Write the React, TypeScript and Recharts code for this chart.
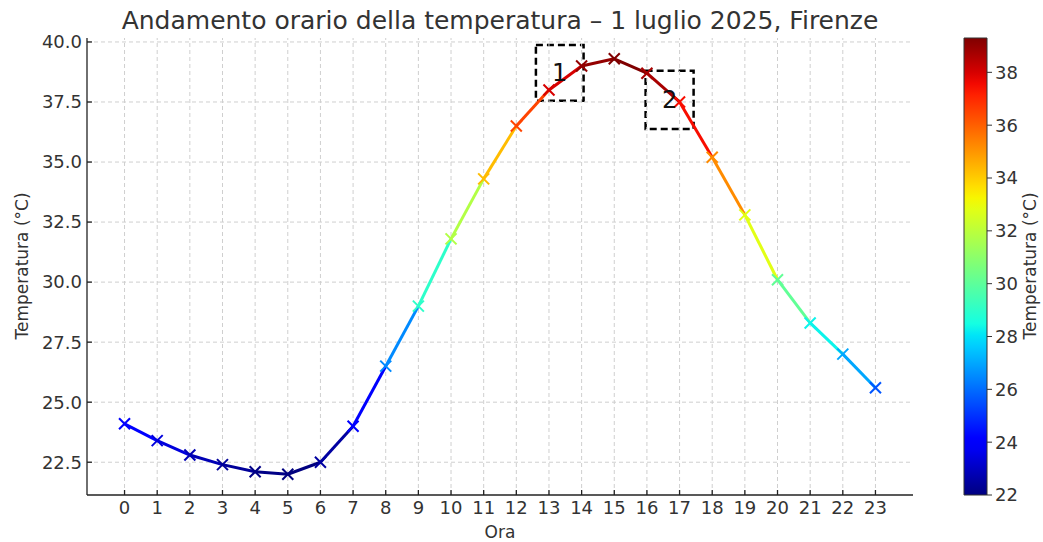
import React from 'react';
import { ComposedChart, Line, Scatter, XAxis, YAxis, ReferenceArea, ReferenceLine } from 'recharts';

const hours = [0, 1, 2, 3, 4, 5, 6, 7, 8, 9, 10, 11, 12, 13, 14, 15, 16, 17, 18, 19, 20, 21, 22, 23];
const temps = [24.1, 23.4, 22.8, 22.4, 22.1, 22.0, 22.5, 24.0, 26.5, 29.0, 31.8, 34.3, 36.5, 38.0, 39.0, 39.3, 38.7, 37.5, 35.2, 32.8, 30.1, 28.3, 27.0, 25.6];
const yTicks = [22.5, 25, 27.5, 30, 32.5, 35, 37.5, 40];
const barTicks = [22, 24, 26, 28, 30, 32, 34, 36, 38];

// dashed annotation boxes (data coords)
const boxLabels = ['1', '2'];
const boxX = [[12.6, 14.06], [15.96, 17.43]];
const boxY = [[37.55, 39.87], [36.38, 38.8]];

const jetR = [[0, 0], [0.35, 0], [0.66, 1], [0.89, 1], [1, 0.5]];
const jetG = [[0, 0], [0.125, 0], [0.375, 1], [0.64, 1], [0.91, 0], [1, 0]];
const jetB = [[0, 0.5], [0.11, 1], [0.34, 1], [0.65, 0], [1, 0]];

const interp = (pts: number[][], t: number) => {
  for (let i = 1; i < pts.length; i++) {
    if (t <= pts[i][0]) {
      const [x0, y0] = pts[i - 1];
      const [x1, y1] = pts[i];
      return y0 + ((t - x0) / (x1 - x0)) * (y1 - y0);
    }
  }
  return pts[pts.length - 1][1];
};

const jet = (t: number) => {
  const c = Math.max(0, Math.min(1, t));
  const h = (v: number) => Math.round(v * 255).toString(16).padStart(2, '0');
  return '#' + h(interp(jetR, c)) + h(interp(jetG, c)) + h(interp(jetB, c));
};

const tMin = Math.min(...temps);
const tMax = Math.max(...temps);
const norm = (v: number) => (v - tMin) / (tMax - tMin);

const points = hours.map((h, i) => ({ x: h, y: temps[i], color: jet(norm(temps[i])) }));
const segments = hours.slice(0, -1).map((h, i) => ({
  key: 'seg' + h,
  color: jet(norm(temps[i])),
  data: [points[i], points[i + 1]],
}));
const barData = [{ x: 0, y: tMin }, { x: 1, y: tMax }];

const XMark = (props: any) => {
  const { cx, cy, payload } = props;
  const r = 5.5;
  return (
    <g stroke={payload.color} strokeWidth={2}>
      <line x1={cx - r} y1={cy - r} x2={cx + r} y2={cy + r} />
      <line x1={cx - r} y1={cy + r} x2={cx + r} y2={cy - r} />
    </g>
  );
};

const font = '"DejaVu Sans", sans-serif';
const textColor = '#333';
const gridColor = '#cfcfcf';

export default function App() {
  return (
    <div style={{ position: 'fixed', top: 0, left: 0, width: 1043, height: 542, background: '#fff', fontFamily: font, overflow: 'hidden' }}>
      <div style={{ position: 'absolute', top: 6, left: 0, width: 1000, textAlign: 'center', fontSize: 25, color: textColor }}>
        Andamento orario della temperatura – 1 luglio 2025, Firenze
      </div>
      <div style={{ position: 'absolute', top: 522, left: 0, width: 1000, textAlign: 'center', fontSize: 17, color: textColor }}>
        Ora
      </div>
      <div style={{ position: 'absolute', top: 256, left: -78, width: 200, textAlign: 'center', fontSize: 17, color: textColor, transform: 'rotate(-90deg)' }}>
        Temperatura (°C)
      </div>
      <div style={{ position: 'absolute', top: 256, left: 930, width: 200, textAlign: 'center', fontSize: 17, color: textColor, transform: 'rotate(-90deg)' }}>
        Temperatura (°C)
      </div>

      <div style={{ position: 'absolute', top: 0, left: 0 }}>
        <ComposedChart width={930} height={542} margin={{ top: 38, right: 17, bottom: 7, left: 7 }}>
          <XAxis
            dataKey="x"
            type="number"
            domain={[-1.15, 24.15]}
            ticks={hours}
            interval={0}
            height={40}
            tickSize={-5}
            tickMargin={11}
            stroke="#222"
            strokeWidth={1.3}
            tick={{ fill: textColor, fontSize: 18, fontFamily: font }}
            allowDataOverflow
          />
          <YAxis
            dataKey="y"
            type="number"
            domain={[21.135, 40.165]}
            ticks={yTicks}
            interval={0}
            width={80}
            tickSize={-5}
            tickMargin={10}
            stroke="#222"
            strokeWidth={1.3}
            tickFormatter={(v: number) => v.toFixed(1)}
            tick={{ fill: textColor, fontSize: 18, fontFamily: font }}
            allowDataOverflow
          />
          {hours.map((h) => (
            <ReferenceLine key={'gx' + h} x={h} stroke={gridColor} strokeDasharray="4 3" />
          ))}
          {yTicks.map((t) => (
            <ReferenceLine key={'gy' + t} y={t} stroke={gridColor} strokeDasharray="4 3" />
          ))}
          {segments.map((s) => (
            <Line
              key={s.key}
              data={s.data}
              dataKey="y"
              type="linear"
              stroke={s.color}
              strokeWidth={3}
              dot={false}
              activeDot={false}
              isAnimationActive={false}
            />
          ))}
          <Scatter data={points} dataKey="y" shape={XMark} isAnimationActive={false} />
          {boxLabels.map((lab, i) => (
            <ReferenceArea
              key={'box' + lab}
              x1={boxX[i][0]}
              x2={boxX[i][1]}
              y1={boxY[i][0]}
              y2={boxY[i][1]}
              fill="none"
              stroke="#000"
              strokeWidth={2.5}
              strokeDasharray="7 4"
              ifOverflow="visible"
              label={{ value: lab, position: 'center', fontSize: 24, fill: '#111', fontFamily: font }}
            />
          ))}
        </ComposedChart>
      </div>

      <div style={{ position: 'absolute', top: 0, left: 950 }}>
        <ComposedChart width={93} height={542} data={barData} margin={{ top: 38, right: 0, bottom: 47, left: 14 }}>
          <defs>
            <linearGradient id="jetGrad" x1="0" y1="1" x2="0" y2="0">
              {Array.from({ length: 41 }, (_, k) => (
                <stop key={k} offset={k / 40} stopColor={jet(k / 40)} />
              ))}
            </linearGradient>
          </defs>
          <XAxis type="number" dataKey="x" domain={[0, 1]} hide />
          <YAxis
            dataKey="y"
            orientation="right"
            type="number"
            domain={[tMin, tMax]}
            ticks={barTicks}
            interval={0}
            width={56}
            axisLine={false}
            tickSize={5}
            tickMargin={3}
            stroke="#333"
            tick={{ fill: textColor, fontSize: 18, fontFamily: font }}
            allowDataOverflow
          />
          <ReferenceArea x1={0} x2={1} y1={tMin} y2={tMax} fill="url(#jetGrad)" fillOpacity={1} stroke="#333" strokeWidth={1} ifOverflow="visible" />
        </ComposedChart>
      </div>
    </div>
  );
}
